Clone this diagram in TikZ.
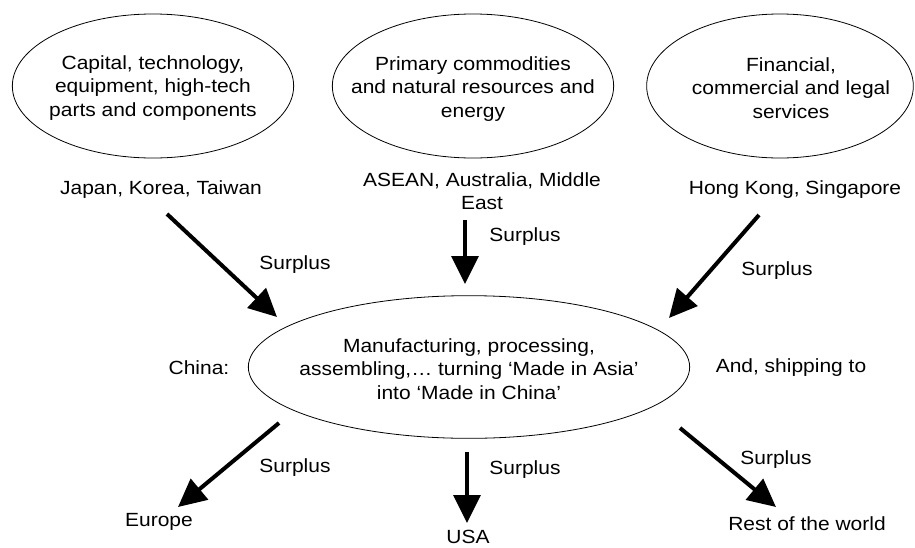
\documentclass[tikz,border=0pt]{standalone}
\usepackage{fontspec}
\setmainfont{Liberation Sans}[FakeStretch=1.1]
\usetikzlibrary{arrows.meta,shapes.geometric}

\begin{document}
\begin{tikzpicture}[x=0.75pt,y=-0.75pt,font=\fontsize{14.3pt}{17.6pt}\selectfont]
  \tikzstyle{bubble}=[ellipse,draw,line width=0.6pt,minimum width=211pt,minimum height=108pt,inner sep=0pt]
  \tikzstyle{flow}=[line width=3pt,-{Triangle[length=21pt,width=20pt]}]
  \tikzstyle{annot}=[align=center,inner sep=0pt]

  \useasboundingbox (0,0) rectangle (915,547);

  % Draw the three sources
  \node[bubble] (R-1) at (153,86) {};
  \node[bubble] (R-2) at (473,86) {};
  \node[bubble,minimum width=200pt] (R-3) at (780,86) {};
  \node[annot] (T-1) at (153,88) {Capital, technology,\\equipment, high-tech\\parts and components};
  \node[annot] (T-2) at (473,89) {Primary commodities\\and natural resources and\\energy};
  \node[annot] (T-3) at (791,88) {Financial,\\commercial and legal\\services};

  \node[annot] (S-1) at (161,190) {Japan, Korea, Taiwan};
  \node[annot] (S-2) at (482,191) {ASEAN, Australia, Middle\\East};
  \node[annot] (S-3) at (795,190) {Hong Kong, Singapore};

  % China in the middle
  \node[bubble,minimum width=331pt,minimum height=107pt] (C) at (469,367) {};
  \node[annot] (T-C) at (469,369)
      {Manufacturing, processing,\\assembling,… turning ‘Made in Asia’\\into ‘Made in China’};
  \node[annot] (china) at (199,368) {China:};
  \node[annot] (ship) at (791,368) {And, shipping to};

  % Draw the markets
  \node[annot] (D-1) at (159,522) {Europe};
  \node[annot] (D-2) at (468,537) {USA};
  \node[annot] (D-3) at (807,524) {Rest of the world};

  % Ends of the flows
  \foreach \name / \sx / \sy / \ex / \ey in {1/167/214/277/317, 2/465/220/465/284, 3/759/215/669/318,
      4/279/423/178/507, 5/467/452/467/523, 6/680/428/776/507}
  {
      \coordinate (I-\name) at (\sx,\sy);
      \coordinate (O-\name) at (\ex,\ey);
  }

  % Connect every start with its end
  \foreach \name in {1,...,6}
      \draw[flow] (I-\name) -- (O-\name);

  % Annotate the flows
  \foreach \name / \x / \y in {1/295/265, 2/525/237, 3/777/271, 4/295/468, 5/525/470, 6/776/460}
      \node[annot] (L-\name) at (\x,\y) {Surplus};
\end{tikzpicture}
\end{document}
